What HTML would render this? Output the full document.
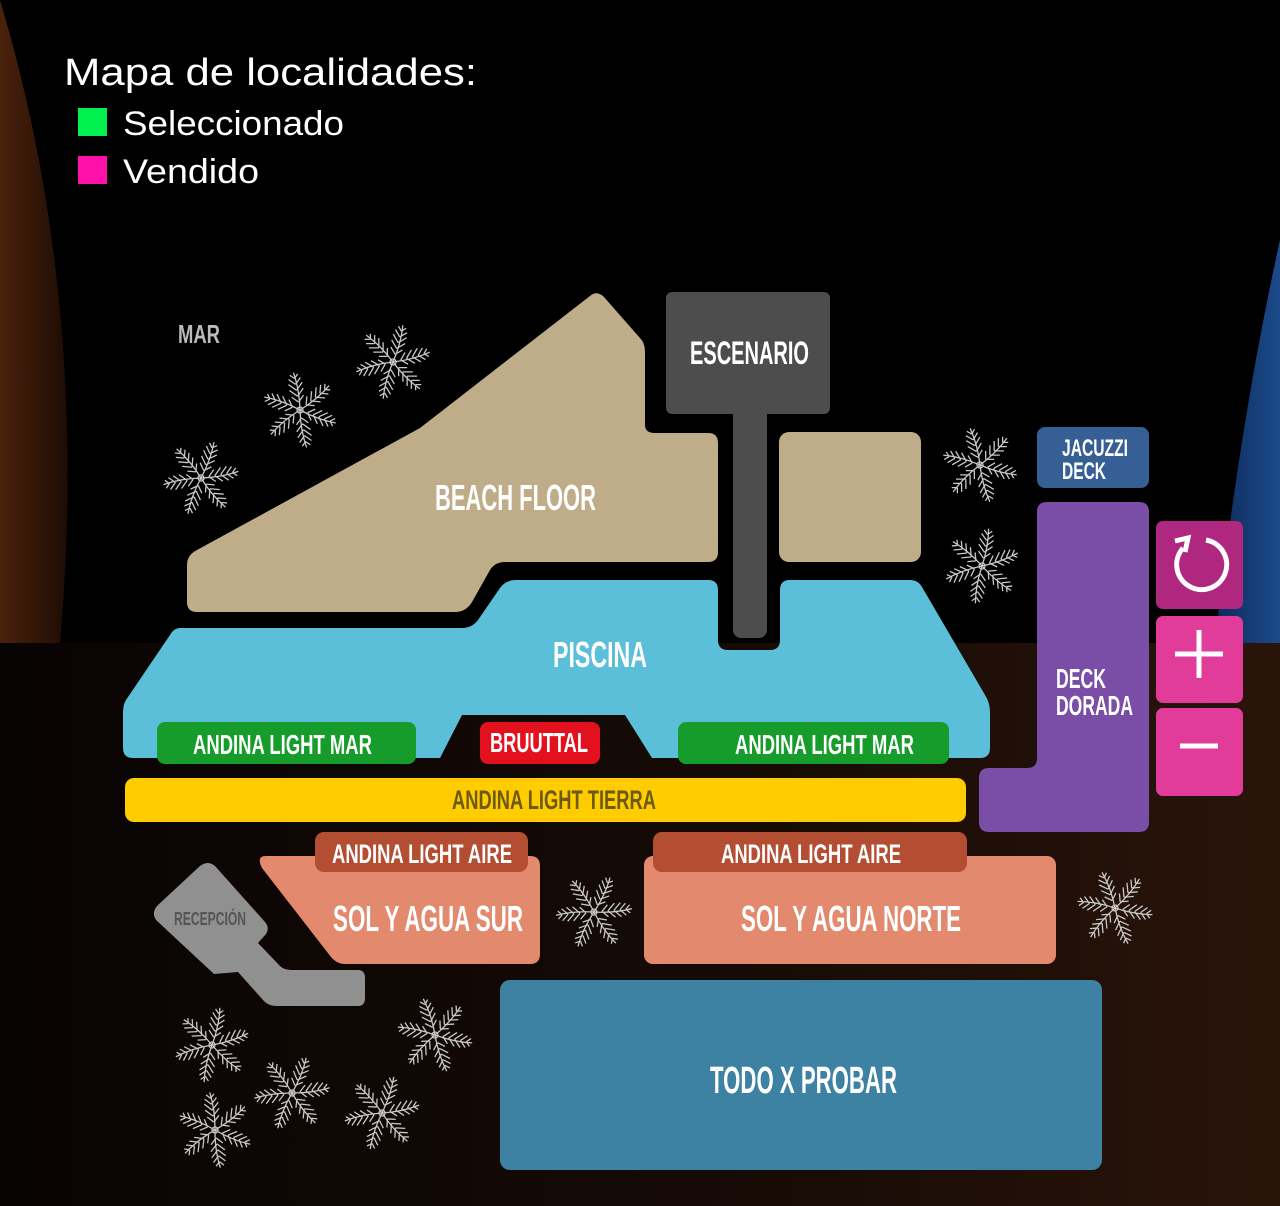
<!DOCTYPE html>
<html><head><meta charset="utf-8"><style>
html,body{margin:0;padding:0;background:#000;width:1280px;height:1206px;overflow:hidden}
svg{display:block}
.t{font-family:"Liberation Sans Narrow","Liberation Sans",sans-serif;font-weight:bold;fill:#fff}
</style></head><body>
<svg width="1280" height="1206" viewBox="0 0 1280 1206" xmlns="http://www.w3.org/2000/svg">
<defs>
<linearGradient id="lb" x1="0" y1="0" x2="1" y2="0"><stop offset="0" stop-color="#4a220c"/><stop offset="1" stop-color="#1e0c05"/></linearGradient>
<linearGradient id="rb" x1="0" y1="0" x2="1" y2="0"><stop offset="0" stop-color="#0d2a5a"/><stop offset="1" stop-color="#1c4a8a"/></linearGradient>
<linearGradient id="bot" x1="0" y1="0" x2="1" y2="0"><stop offset="0" stop-color="#080403"/><stop offset="0.6" stop-color="#170b06"/><stop offset="1" stop-color="#2a140a"/></linearGradient>
<g id="palm" stroke="#c8c8c8" stroke-width="1.3" fill="none">
<g id="fr"><path d="M0 0 Q3 -20 0 -38"/><path d="M0 -8 l-6 -6 M0 -14 l-7 -7 M0 -20 l-7 -7 M0 -26 l-6 -6 M0 -32 l-4 -4 M0 -8 l6 -6 M0 -14 l7 -7 M0 -20 l7 -7 M0 -26 l6 -6 M0 -32 l4 -4"/></g>
<use href="#fr" transform="rotate(60)"/><use href="#fr" transform="rotate(120)"/><use href="#fr" transform="rotate(180)"/><use href="#fr" transform="rotate(240)"/><use href="#fr" transform="rotate(300)"/>
<circle r="3"/>
</g>
</defs>
<rect x="0" y="643" width="1280" height="563" fill="url(#bot)"/>
<path d="M0 0 Q90 300 60 643 L0 643 Z" fill="url(#lb)"/>
<path d="M1280 240 Q1240 420 1215 643 L1280 643 Z" fill="url(#rb)"/>

<text x="64" y="85" font-family="Liberation Sans,sans-serif" font-size="38" fill="#fff" textLength="413" lengthAdjust="spacingAndGlyphs">Mapa de localidades:</text>
<rect x="78" y="108" width="29" height="28" fill="#00f050"/>
<rect x="78" y="156" width="29" height="28" fill="#ff10a8"/>
<text x="123" y="135" font-family="Liberation Sans,sans-serif" font-size="34" fill="#fff" textLength="221" lengthAdjust="spacingAndGlyphs">Seleccionado</text>
<text x="123" y="183" font-family="Liberation Sans,sans-serif" font-size="34" fill="#fff" textLength="136" lengthAdjust="spacingAndGlyphs">Vendido</text>

<text x="178" y="343" class="t" font-size="26" style="fill:#bbb" textLength="42" lengthAdjust="spacingAndGlyphs">MAR</text>

<g>
<use href="#palm" transform="translate(393,362) rotate(15)"/><use href="#palm" transform="translate(300,410) rotate(-10)"/><use href="#palm" transform="translate(201,478) rotate(20)"/>
<use href="#palm" transform="translate(980,465) rotate(-15)"/><use href="#palm" transform="translate(982,566) rotate(10)"/><use href="#palm" transform="translate(594,912) rotate(25)"/>
<use href="#palm" transform="translate(1115,908) rotate(-20)"/><use href="#palm" transform="translate(212,1045) rotate(12)"/><use href="#palm" transform="translate(435,1035) rotate(-18)"/>
<use href="#palm" transform="translate(292,1093) rotate(22)"/><use href="#palm" transform="translate(215,1130) rotate(-8)"/><use href="#palm" transform="translate(382,1113) rotate(18)"/>
</g>

<path d="M197 550 L420 428 L590 296 Q597 290 604 297 L640 338 Q645 343 645 352 L645 425 Q645 433 655 433 L708 433 Q718 433 718 443 L718 552 Q718 562 708 562 L505 562 Q495 562 490 570 L472 602 Q466 612 455 612 L197 612 Q187 612 187 602 L187 565 Q187 555 197 550 Z" fill="#bfad8a"/>
<rect x="779" y="432" width="142" height="130" rx="10" fill="#bfad8a"/>
<text x="435" y="510" class="t" font-size="36" textLength="161" lengthAdjust="spacingAndGlyphs">BEACH FLOOR</text>

<path d="M180 628 L462 628 Q472 628 478 620 L500 588 Q506 580 516 580 L708 580 Q718 580 718 590 L718 640 Q718 650 728 650 L770 650 Q780 650 780 640 L780 590 Q780 580 790 580 L910 580 Q918 580 922 587 L985 695 Q990 703 990 712 L990 748 Q990 758 980 758 L652 758 L625 715 L462 715 L440 758 L133 758 Q123 758 123 748 L123 712 Q123 703 128 697 L170 635 Q174 628 180 628 Z" fill="#5bbfd9"/>
<text x="553" y="667" class="t" font-size="36" textLength="94" lengthAdjust="spacingAndGlyphs">PISCINA</text>

<rect x="666" y="292" width="164" height="122" rx="6" fill="#4d4d4d"/>
<rect x="733" y="405" width="34" height="233" rx="8" fill="#4d4d4d"/>
<text x="690" y="364" class="t" font-size="32" textLength="119" lengthAdjust="spacingAndGlyphs">ESCENARIO</text>

<rect x="157" y="722" width="259" height="42" rx="8" fill="#169c2a"/>
<rect x="678" y="722" width="271" height="42" rx="8" fill="#169c2a"/>
<rect x="480" y="722" width="120" height="42" rx="8" fill="#e3101d"/>
<text x="193" y="754" class="t" font-size="28" textLength="179" lengthAdjust="spacingAndGlyphs">ANDINA LIGHT MAR</text>
<text x="735" y="754" class="t" font-size="28" textLength="179" lengthAdjust="spacingAndGlyphs">ANDINA LIGHT MAR</text>
<text x="490" y="752" class="t" font-size="28" textLength="98" lengthAdjust="spacingAndGlyphs">BRUUTTAL</text>

<rect x="125" y="778" width="841" height="44" rx="9" fill="#ffcc00"/>
<text x="452" y="809" class="t" font-size="27" style="fill:#6b5a10" textLength="204" lengthAdjust="spacingAndGlyphs">ANDINA LIGHT TIERRA</text>

<path d="M266 856 L530 856 Q540 856 540 866 L540 954 Q540 964 530 964 L345 964 Q337 964 331 957 L262 868 Q256 856 266 856 Z" fill="#e38a6e"/>
<rect x="644" y="856" width="412" height="108" rx="9" fill="#e38a6e"/>
<rect x="315" y="832" width="213" height="40" rx="9" fill="#b34e33"/>
<rect x="653" y="832" width="314" height="40" rx="9" fill="#b34e33"/>
<text x="332" y="863" class="t" font-size="27" textLength="180" lengthAdjust="spacingAndGlyphs">ANDINA LIGHT AIRE</text>
<text x="721" y="863" class="t" font-size="27" textLength="180" lengthAdjust="spacingAndGlyphs">ANDINA LIGHT AIRE</text>
<text x="333" y="931" class="t" font-size="36" textLength="190" lengthAdjust="spacingAndGlyphs">SOL Y AGUA SUR</text>
<text x="741" y="931" class="t" font-size="36" textLength="220" lengthAdjust="spacingAndGlyphs">SOL Y AGUA NORTE</text>

<path d="M158 905 L200 866 Q208 860 215 866 L265 922 Q270 928 266 934 L258 943 L280 966 Q284 970 292 970 L358 970 Q365 970 365 978 L365 998 Q365 1006 358 1006 L276 1006 Q268 1006 263 1000 L238 972 L214 974 L156 920 Q151 912 158 905 Z" fill="#909090"/>
<text x="174" y="925" class="t" font-size="18" style="fill:#555" textLength="72" lengthAdjust="spacingAndGlyphs">RECEPCIÓN</text>

<rect x="500" y="980" width="602" height="190" rx="10" fill="#3d82a3"/>
<text x="710" y="1093" class="t" font-size="38" textLength="187" lengthAdjust="spacingAndGlyphs">TODO X PROBAR</text>

<rect x="1037" y="427" width="112" height="61" rx="8" fill="#365f96"/>
<text x="1062" y="456" class="t" font-size="24" textLength="66" lengthAdjust="spacingAndGlyphs">JACUZZI</text>
<text x="1062" y="479" class="t" font-size="24" textLength="44" lengthAdjust="spacingAndGlyphs">DECK</text>
<path d="M1047 502 L1139 502 Q1149 502 1149 512 L1149 822 Q1149 832 1139 832 L989 832 Q979 832 979 822 L979 778 Q979 768 989 768 L1027 768 Q1037 768 1037 758 L1037 512 Q1037 502 1047 502 Z" fill="#7a4ea6"/>
<text x="1056" y="688" class="t" font-size="28" textLength="50" lengthAdjust="spacingAndGlyphs">DECK</text>
<text x="1056" y="715" class="t" font-size="28" textLength="77" lengthAdjust="spacingAndGlyphs">DORADA</text>

<rect x="1156" y="521" width="87" height="88" rx="7" fill="#b0277f"/>
<rect x="1156" y="616" width="87" height="87" rx="7" fill="#e23c9a"/>
<rect x="1156" y="708" width="87" height="88" rx="7" fill="#e23c9a"/>
<path d="M1183 548 A25 25 0 1 0 1206 540" fill="none" stroke="#fff" stroke-width="5"/>
<path d="M1175 541 L1188 538 L1185 552" fill="none" stroke="#fff" stroke-width="5"/>
<path d="M1199 630 V678 M1175 654 H1223" stroke="#fff" stroke-width="5"/>
<path d="M1180 746 H1218" stroke="#fff" stroke-width="5"/>
</svg>
</body></html>
